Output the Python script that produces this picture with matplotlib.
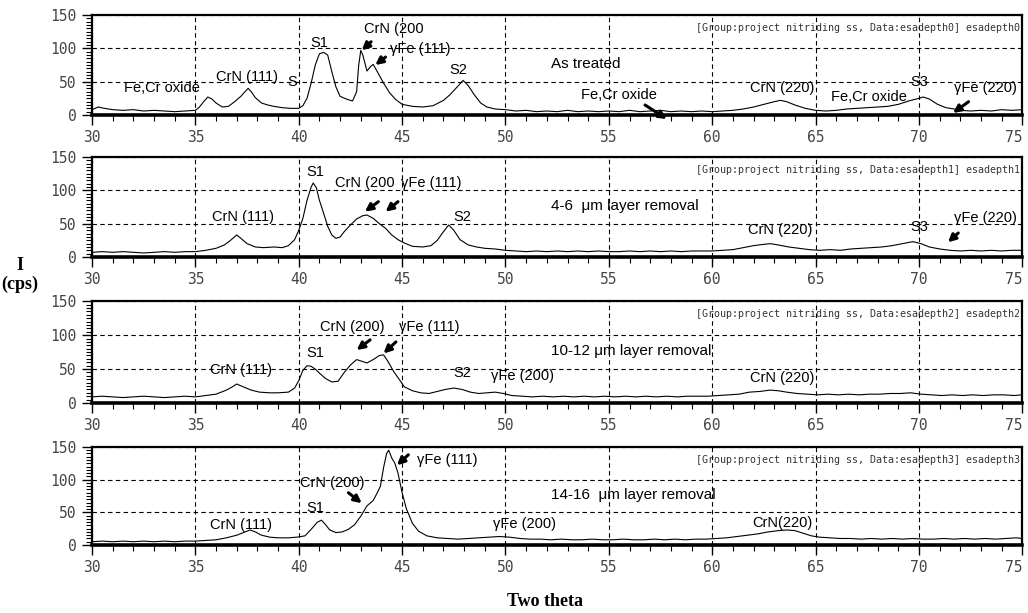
"""
Stacked XRD patterns of the nitrided stainless steel after successive layer removal
"""

import matplotlib
matplotlib.use('Agg')
import matplotlib.pyplot as plt
from matplotlib.ticker import MultipleLocator

# ---- data (2theta in deg, counts per second) ----
tt_depth0 = [30.0, 30.3, 30.6, 31.0, 31.5, 32.0, 32.5, 33.0, 33.5, 34.0, 34.5, 35.0,
             35.2, 35.4, 35.6, 35.8, 36.0, 36.3, 36.6, 36.9, 37.2, 37.4, 37.55, 37.7,
             37.9, 38.2, 38.5, 38.8, 39.2, 39.6, 40.0, 40.2, 40.4, 40.6, 40.8, 41.0,
             41.2, 41.4, 41.6, 41.8, 42.0, 42.3, 42.6, 42.8, 42.9, 43.0, 43.1, 43.3,
             43.45, 43.6, 43.8, 44.1, 44.4, 44.7, 45.0, 45.5, 46.0, 46.5, 47.0, 47.3,
             47.6, 47.95, 48.2, 48.5, 48.8, 49.1, 49.5, 50.0, 50.5, 51.0, 51.5, 52.0,
             52.5, 53.0, 53.5, 54.0, 54.5, 55.0, 55.5, 56.0, 56.5, 57.0, 57.5, 58.0,
             58.5, 59.0, 59.5, 60.0, 60.5, 61.0, 61.5, 62.0, 62.5, 63.0, 63.3, 63.6,
             64.0, 64.5, 65.0, 65.5, 66.0, 66.5, 67.0, 67.5, 68.0, 68.5, 69.0, 69.5,
             70.0, 70.2, 70.5, 70.9, 71.3, 71.7, 72.0, 72.5, 73.0, 73.5, 74.0, 74.5, 75.0]
cps_depth0 = [8, 12, 10, 8, 7, 8, 6, 7, 6, 5, 6, 7,
              12, 20, 27, 24, 18, 12, 13, 20, 28, 35, 40, 35,
              26, 18, 15, 13, 11, 10, 10, 14, 25, 48, 75, 92,
              94, 90, 65, 42, 28, 24, 21, 35, 75, 97, 90, 66,
              72, 76, 65, 48, 33, 23, 16, 13, 12, 14, 22, 30,
              40, 52, 44, 30, 18, 12, 9, 8, 6, 7, 5, 6,
              5, 7, 5, 6, 5, 6, 5, 7, 5, 6, 7, 5,
              6, 5, 6, 5, 6, 7, 9, 12, 16, 20, 22, 20,
              15, 10, 7, 6, 7, 9, 10, 11, 12, 13, 16, 21,
              25, 27, 24, 16, 11, 9, 7, 6, 7, 6, 8, 7, 8]

tt_depth1 = [30.0, 30.5, 31.0, 31.5, 32.0, 32.5, 33.0, 33.5, 34.0, 34.5, 35.0, 35.5,
             36.0, 36.4, 36.7, 37.0, 37.2, 37.5, 37.9, 38.3, 38.8, 39.2, 39.5, 39.8,
             40.0, 40.2, 40.4, 40.6, 40.7, 40.85, 41.0, 41.2, 41.4, 41.6, 41.8, 42.0,
             42.2, 42.5, 42.8, 43.1, 43.3, 43.6, 43.9, 44.2, 44.5, 44.8, 45.1, 45.5,
             46.0, 46.4, 46.7, 47.0, 47.25, 47.5, 47.8, 48.2, 48.6, 49.0, 49.5, 50.0,
             50.5, 51.0, 51.5, 52.0, 52.5, 53.0, 53.5, 54.0, 54.5, 55.0, 55.5, 56.0,
             56.5, 57.0, 57.5, 58.0, 58.5, 59.0, 59.5, 60.0, 60.5, 61.0, 61.5, 62.0,
             62.5, 62.8, 63.2, 63.7, 64.2, 64.7, 65.2, 65.7, 66.2, 66.7, 67.2, 67.7,
             68.2, 68.7, 69.2, 69.7, 70.1, 70.5, 71.0, 71.5, 72.0, 72.5, 73.0, 73.5,
             74.0, 74.5, 75.0]
cps_depth1 = [7, 8, 7, 8, 7, 6, 7, 8, 7, 8, 8, 10,
              13, 18, 25, 33, 28, 20, 15, 14, 15, 14, 17, 26,
              40, 58, 85, 105, 111, 104, 85, 66, 46, 33, 28, 30,
              38, 48, 57, 62, 63, 58, 50, 43, 33, 26, 21, 16,
              15, 17, 25, 38, 48, 40, 26, 18, 15, 13, 12, 10,
              9, 8, 9, 8, 9, 8, 9, 8, 9, 8, 8, 9,
              8, 9, 8, 9, 8, 9, 9, 9, 10, 11, 14, 17,
              19, 20, 18, 15, 13, 11, 10, 11, 10, 12, 13, 14,
              15, 17, 20, 23, 20, 15, 12, 10, 9, 10, 9, 10,
              9, 10, 10]

tt_depth2 = [30.0, 30.5, 31.0, 31.5, 32.0, 32.5, 33.0, 33.5, 34.0, 34.5, 35.0, 35.5,
             36.0, 36.5, 36.8, 37.0, 37.3, 37.7, 38.1, 38.6, 39.0, 39.5, 39.8, 40.0,
             40.2, 40.4, 40.6, 40.8, 41.0, 41.3, 41.6, 41.9, 42.2, 42.5, 42.8, 43.0,
             43.3, 43.6, 43.9, 44.1, 44.3, 44.6, 44.9, 45.1, 45.5, 45.9, 46.3, 46.7,
             47.1, 47.5, 47.9, 48.3, 48.7, 49.1, 49.5, 49.9, 50.3, 50.8, 51.3, 51.8,
             52.3, 52.8, 53.3, 53.8, 54.3, 54.8, 55.3, 55.8, 56.3, 56.8, 57.3, 57.8,
             58.3, 58.8, 59.3, 59.8, 60.3, 60.8, 61.3, 61.8, 62.3, 62.8, 63.2, 63.6,
             64.1, 64.6, 65.1, 65.6, 66.1, 66.6, 67.1, 67.6, 68.1, 68.6, 69.1, 69.6,
             70.1, 70.6, 71.1, 71.6, 72.1, 72.6, 73.1, 73.6, 74.1, 74.6, 75.0]
cps_depth2 = [9, 10, 9, 8, 9, 10, 9, 8, 9, 10, 9, 11,
              13, 19, 24, 28, 24, 19, 16, 15, 15, 16, 22, 33,
              48, 55, 54, 50, 44, 36, 31, 32, 45, 56, 64, 62,
              59, 64, 70, 71, 62, 46, 33, 24, 18, 15, 14, 17,
              20, 22, 20, 16, 14, 15, 16, 14, 11, 10, 9, 10,
              9, 10, 9, 10, 9, 10, 9, 10, 9, 10, 9, 10,
              9, 10, 10, 10, 11, 12, 13, 16, 17, 19, 18, 16,
              14, 13, 12, 13, 12, 13, 12, 13, 13, 14, 14, 15,
              13, 12, 11, 12, 11, 12, 11, 12, 12, 11, 12]

tt_depth3 = [30.0, 30.5, 31.0, 31.5, 32.0, 32.5, 33.0, 33.5, 34.0, 34.5, 35.0, 35.5,
             36.0, 36.5, 37.0, 37.4, 37.65, 37.9, 38.2, 38.6, 39.0, 39.5, 39.9, 40.3,
             40.6, 40.9, 41.1, 41.3, 41.5, 41.8, 42.1, 42.4, 42.7, 43.0, 43.3, 43.6,
             43.8, 43.95, 44.1, 44.25, 44.35, 44.5, 44.65, 44.8, 45.0, 45.2, 45.5, 45.8,
             46.2, 46.7, 47.2, 47.7, 48.2, 48.7, 49.2, 49.7, 50.2, 50.7, 51.2, 51.7,
             52.2, 52.7, 53.2, 53.7, 54.2, 54.7, 55.2, 55.7, 56.2, 56.7, 57.2, 57.7,
             58.2, 58.7, 59.2, 59.7, 60.2, 60.7, 61.2, 61.7, 62.2, 62.7, 63.2, 63.6,
             64.0, 64.4, 64.8, 65.2, 65.7, 66.2, 66.7, 67.2, 67.7, 68.2, 68.7, 69.2,
             69.7, 70.2, 70.7, 71.2, 71.7, 72.2, 72.7, 73.2, 73.7, 74.2, 74.7, 75.0]
cps_depth3 = [5, 6, 5, 6, 5, 6, 5, 6, 5, 6, 6, 7,
              8, 11, 15, 20, 23, 20, 15, 12, 11, 11, 12, 14,
              24, 35, 38, 31, 23, 19, 20, 24, 31, 44, 60, 68,
              80, 90, 118, 140, 145, 133, 125, 110, 80, 56, 33, 21,
              14, 11, 10, 9, 10, 11, 12, 13, 12, 10, 9, 9,
              8, 9, 8, 8, 9, 8, 8, 9, 8, 8, 9, 8,
              9, 8, 9, 9, 10, 11, 13, 15, 17, 20, 22, 23,
              22, 18, 14, 12, 11, 10, 10, 9, 10, 9, 10, 9,
              10, 9, 9, 10, 9, 10, 9, 10, 9, 10, 11, 10]

headers = ["[Group:project nitriding ss, Data:esadepth0] esadepth0",
           "[Group:project nitriding ss, Data:esadepth1] esadepth1",
           "[Group:project nitriding ss, Data:esadepth2] esadepth2",
           "[Group:project nitriding ss, Data:esadepth3] esadepth3"]
conditions = ["As treated",
              "4-6  \u03bcm layer removal",
              "10-12 \u03bcm layer removal",
              "14-16  \u03bcm layer removal"]

LABEL_FONT = 'Liberation Sans'
TICK_FONT = 'DejaVu Sans Mono'


def label(ax, txt, x, y, size=10.5):
    ax.text(x, y, txt, ha='center', va='center', fontsize=size,
            family=LABEL_FONT, color='black')


def arrow(ax, x0, y0, x1, y1):
    # short fat arrow pointing from (x0, y0) to (x1, y1)
    ax.annotate('', xy=(x1, y1), xytext=(x0, y0),
                arrowprops=dict(arrowstyle='-|>', lw=2.2, color='black',
                                mutation_scale=11, shrinkA=0, shrinkB=0),
                annotation_clip=False)


def draw_panel(ax, tt, cps, header, condition):
    ax.plot(tt, cps, color='black', lw=0.8)
    ax.set_xlim(30, 75)
    ax.set_ylim(0, 150)
    ax.set_xticks(range(30, 76, 5))
    ax.set_yticks([0, 50, 100, 150])
    ax.xaxis.set_minor_locator(MultipleLocator(1))
    ax.yaxis.set_minor_locator(MultipleLocator(5))
    ax.grid(True, which='major', color='black', lw=0.8, ls=(0, (4, 3)))
    ax.tick_params(which='major', direction='out', length=7, width=1.0,
                   labelsize=10.5, labelcolor='#444444', pad=4)
    ax.tick_params(which='minor', direction='out', length=4, width=0.8)
    for lab in ax.get_xticklabels() + ax.get_yticklabels():
        lab.set_family(TICK_FONT)
    # the last label sits on the right border of the figure
    ax.get_xticklabels()[-1].set_horizontalalignment('right')
    for side in ['top', 'left', 'right']:
        ax.spines[side].set_linewidth(1.6)
    ax.spines['bottom'].set_linewidth(2.6)
    ax.text(0.997, 0.87, header, transform=ax.transAxes, ha='right', va='center',
            family=TICK_FONT, fontsize=7.2, color='#333333')
    ax.text(52.2, 76, condition, ha='left', va='center', fontsize=11,
            family=LABEL_FONT)


def main():
    fig = plt.figure(figsize=(10.28, 6.13), dpi=100)
    left, width = 0.0895, 0.905
    bottoms = [0.8124, 0.5808, 0.3426, 0.1109]
    heights = [0.163, 0.163, 0.166, 0.160]
    series = [(tt_depth0, cps_depth0), (tt_depth1, cps_depth1),
              (tt_depth2, cps_depth2), (tt_depth3, cps_depth3)]

    axes = []
    for i, (tt, cps) in enumerate(series):
        ax = fig.add_axes([left, bottoms[i], width, heights[i]])
        draw_panel(ax, tt, cps, headers[i], conditions[i])
        axes.append(ax)

    # as treated
    ax = axes[0]
    label(ax, 'Fe,Cr oxide', 33.4, 40)
    label(ax, 'CrN (111)', 37.5, 57)
    label(ax, 'S', 39.7, 50)
    label(ax, 'S1', 41.0, 108)
    label(ax, 'CrN (200', 44.6, 129)
    label(ax, '\u03b3Fe (111)', 45.9, 99)
    arrow(ax, 43.5, 110, 43.05, 97)
    arrow(ax, 44.2, 87, 43.7, 75)
    label(ax, 'S2', 47.7, 67)
    label(ax, 'Fe,Cr oxide', 55.5, 30)
    arrow(ax, 56.75, 15, 57.8, -6)
    label(ax, 'CrN (220)', 63.4, 40)
    label(ax, 'Fe,Cr oxide', 67.6, 27)
    label(ax, 'S3', 70.0, 50)
    label(ax, '\u03b3Fe (220)', 73.2, 40)
    arrow(ax, 72.4, 20, 71.65, 3)

    # 4-6 um
    ax = axes[1]
    label(ax, 'CrN (111)', 37.3, 60)
    label(ax, 'S1', 40.8, 128)
    label(ax, 'CrN (200', 43.2, 111)
    label(ax, '\u03b3Fe (111)', 46.4, 111)
    arrow(ax, 43.85, 83, 43.2, 68)
    arrow(ax, 44.8, 83, 44.2, 68)
    label(ax, 'S2', 47.9, 60)
    label(ax, 'CrN (220)', 63.3, 40)
    label(ax, 'S3', 70.0, 45)
    label(ax, '\u03b3Fe (220)', 73.2, 58)
    arrow(ax, 71.9, 36, 71.4, 22)

    # 10-12 um
    ax = axes[2]
    label(ax, 'CrN (111)', 37.2, 48)
    label(ax, 'S1', 40.8, 73)
    label(ax, 'CrN (200)', 42.6, 112)
    label(ax, '\u03b3Fe (111)', 46.3, 112)
    arrow(ax, 43.45, 93, 42.8, 78)
    arrow(ax, 44.7, 90, 44.1, 73)
    label(ax, 'S2', 47.9, 44)
    label(ax, '\u03b3Fe (200)', 50.8, 40)
    label(ax, 'CrN (220)', 63.4, 37)

    # 14-16 um
    ax = axes[3]
    label(ax, 'CrN (111)', 37.2, 31)
    label(ax, 'S1', 40.8, 57)
    label(ax, 'CrN (200)', 41.6, 95)
    arrow(ax, 42.4, 80, 43.05, 64)
    label(ax, '\u03b3Fe (111)', 47.2, 130)
    arrow(ax, 45.3, 138, 44.75, 122)
    label(ax, '\u03b3Fe (200)', 50.9, 32)
    label(ax, 'CrN(220)', 63.4, 34)

    fig.text(20 / 1028, 1 - 265 / 613, 'I', ha='center', va='center',
             family='Liberation Serif', fontweight='bold', fontsize=13)
    fig.text(20 / 1028, 1 - 284 / 613, '(cps)', ha='center', va='center',
             family='Liberation Serif', fontweight='bold', fontsize=13)
    fig.text(545 / 1028, 1 - 601 / 613, 'Two theta', ha='center', va='center',
             family='Liberation Serif', fontweight='bold', fontsize=13)

    fig.savefig('out.png', dpi=100)
    plt.close(fig)


if __name__ == "__main__":
    main()
